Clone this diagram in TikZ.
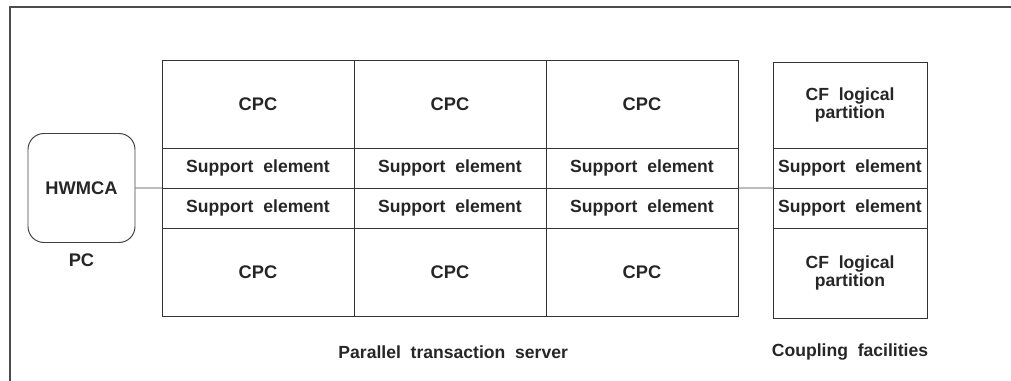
\documentclass[tikz,border=0pt]{standalone}
\usepackage{fontspec}
\setmainfont{Liberation Sans}
\usetikzlibrary{positioning}

\begin{document}
\begin{tikzpicture}[every node/.style={font=\fontsize{12.5}{11.5}\selectfont\bfseries, text=black!85},
    cell/.style={draw=black!80, line width=0.7pt, outer sep=0pt, inner sep=0pt, align=center},
    cpc/.style={cell, minimum width=4.8cm, minimum height=2.2cm},
    se/.style={cell, minimum width=4.8cm, minimum height=1cm},
    cfcell/.style={cell, minimum width=3.85cm},
    lbl/.style={inner sep=0pt}]

\useasboundingbox (0,0) rectangle (25.275,9.525);
\draw[black!70, line width=1.3pt] (0.25,0) -- (0.25,9.35) -- (25.275,9.35);

% PC with the hardware management console
\node[draw=black!75, line width=0.7pt, rounded corners=0.4cm, minimum width=2.675cm, minimum height=2.725cm,
      font=\fontsize{13}{14}\selectfont\bfseries] (hwmca) at (2.0375,4.825) {HWMCA};
\node[lbl, font=\fontsize{13}{14}\selectfont\bfseries] (pc) at ([yshift=-0.44cm]hwmca.south) {PC};

% parallel transaction server
\node[cpc, anchor=north west, font=\fontsize{13}{14}\selectfont\bfseries] (cpc1) at (4.05,8.025) {CPC};
\node[se, below=0pt of cpc1] (se1a) {Support\ \ element};
\node[se, below=0pt of se1a] (se1b) {Support\ \ element};
\node[cpc, below=0pt of se1b, font=\fontsize{13}{14}\selectfont\bfseries] (cpc4) {CPC};

\node[cpc, right=0pt of cpc1, font=\fontsize{13}{14}\selectfont\bfseries] (cpc2) {CPC};
\node[se, below=0pt of cpc2] (se2a) {Support\ \ element};
\node[se, below=0pt of se2a] (se2b) {Support\ \ element};
\node[cpc, below=0pt of se2b, font=\fontsize{13}{14}\selectfont\bfseries] (cpc5) {CPC};

\node[cpc, right=0pt of cpc2, font=\fontsize{13}{14}\selectfont\bfseries] (cpc3) {CPC};
\node[se, below=0pt of cpc3] (se3a) {Support\ \ element};
\node[se, below=0pt of se3a] (se3b) {Support\ \ element};
\node[cpc, below=0pt of se3b, font=\fontsize{13}{14}\selectfont\bfseries] (cpc6) {CPC};

% coupling facilities
\node[cfcell, minimum height=2.15cm, anchor=north west] (cf1) at (19.325,7.975) {CF\ \ logical\\partition};
\node[cfcell, minimum height=1cm, below=0pt of cf1] (cfse1) {Support\ \ element};
\node[cfcell, minimum height=1cm, below=0pt of cfse1] (cfse2) {Support\ \ element};
\node[cfcell, minimum height=2.25cm, below=0pt of cfse2] (cf2) {CF\ \ logical\\partition};

\node[lbl] (server) at ([xshift=0.08cm, yshift=-0.9cm]cpc5.south) {Parallel\ \ transaction\ \ server};
\node[lbl] (coupling) at ([yshift=-0.85cm]cf2.south) {Coupling\ \ facilities};

\draw[black!75, line width=0.7pt] (hwmca.east) -- (se1a.south west);
\draw[black!75, line width=0.7pt] (se3a.south east) -- (cfse1.south west);

\end{tikzpicture}
\end{document}
